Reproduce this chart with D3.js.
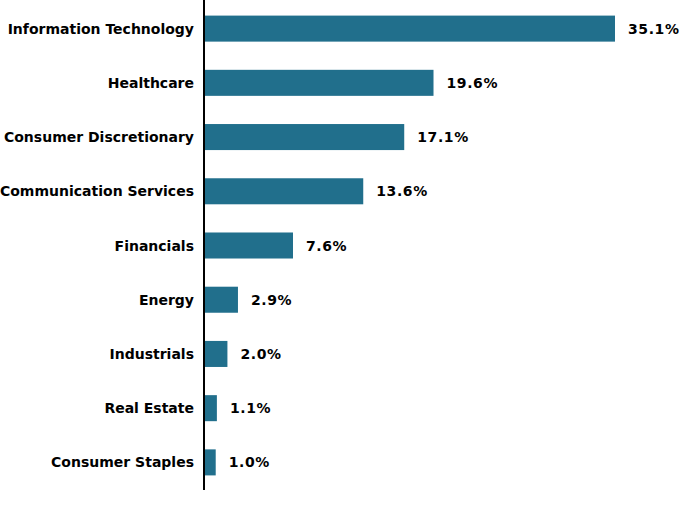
<!DOCTYPE html>
<html><head><meta charset="utf-8">
<script src="https://cdn.jsdelivr.net/npm/d3@7"></script>
<style>body{margin:0;background:#fff}text{font-family:"DejaVu Sans",Verdana,sans-serif;font-weight:bold;font-size:14px;fill:#000}</style>
</head><body>
<svg id="c" width="682" height="514"></svg>
<script>
const categories = ["Information Technology","Healthcare","Consumer Discretionary","Communication Services","Financials","Energy","Industrials","Real Estate","Consumer Staples"];
const values = [35.1,19.6,17.1,13.6,7.6,2.9,2.0,1.1,1.0];
const valueLabels = ["35.1%","19.6%","17.1%","13.6%","7.6%","2.9%","2.0%","1.1%","1.0%"];

const svg = d3.select("#c");
const x0 = 204;
const x = d3.scaleLinear().domain([0,35.1]).range([x0, 615]);
const y = d3.scaleBand().domain(categories).range([1.5,489.5]).paddingInner(0.52).paddingOuter(0.26);

svg.selectAll("rect.bar").data(values).join("rect")
  .attr("class","bar")
  .attr("x", x(0))
  .attr("y",(d,i)=>y(categories[i]))
  .attr("width",d=>x(d)-x(0))
  .attr("height",y.bandwidth())
  .attr("fill","#216f8c");

svg.selectAll("text.cat").data(categories).join("text")
  .attr("class","cat")
  .attr("x", x0-10)
  .attr("y", d=>y(d)+y.bandwidth()/2)
  .attr("dy","0.36em")
  .attr("text-anchor","end")
  .text(d=>d);

svg.selectAll("text.val").data(values).join("text")
  .attr("class","val")
  .attr("x", d=>x(d)+13)
  .attr("y",(d,i)=>y(categories[i])+y.bandwidth()/2)
  .attr("dy","0.36em")
  .style("letter-spacing","0.6px")
  .text((d,i)=>valueLabels[i]);

svg.append("line").attr("x1",x0).attr("x2",x0).attr("y1",0).attr("y2",490)
  .attr("stroke","#000").attr("stroke-width",2);
</script>
</body></html>
